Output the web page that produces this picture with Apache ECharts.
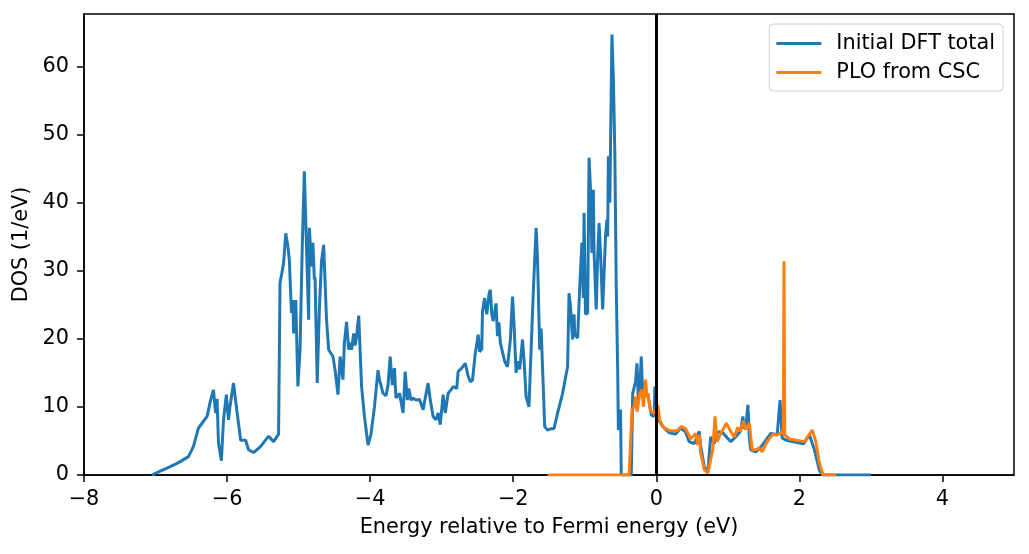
<!DOCTYPE html>
<html>
<head>
<meta charset="utf-8">
<script src="https://cdn.jsdelivr.net/npm/echarts@6/dist/echarts.min.js"></script>
<style>
  html, body { margin: 0; padding: 0; background: #fff; }
  #chart { width: 1029px; height: 554px; }
</style>
</head>
<body>
<div id="chart"></div>
<script>
// Initial DFT total DOS (energy in eV, DOS in 1/eV)
const dftEnergy = [
  -7.05, -6.95, -6.84, -6.72, -6.65, -6.54, -6.47, -6.40, -6.35, -6.28, -6.23, -6.19, -6.16, -6.14, -6.12, -6.08,
  -6.05, -6.01, -5.98, -5.96, -5.91, -5.87, -5.81, -5.74, -5.70, -5.63, -5.53, -5.42, -5.35, -5.28, -5.26, -5.23,
  -5.21, -5.18, -5.15, -5.13, -5.10, -5.08, -5.07, -5.04, -5.01, -4.98, -4.95, -4.92, -4.89, -4.86, -4.85, -4.82,
  -4.80, -4.78, -4.77, -4.74, -4.71, -4.68, -4.65, -4.61, -4.58, -4.52, -4.49, -4.45, -4.42, -4.38, -4.36, -4.33,
  -4.30, -4.28, -4.26, -4.23, -4.21, -4.19, -4.16, -4.12, -4.08, -4.03, -3.99, -3.94, -3.89, -3.87, -3.82, -3.78,
  -3.75, -3.72, -3.69, -3.66, -3.64, -3.59, -3.54, -3.51, -3.48, -3.46, -3.43, -3.40, -3.36, -3.31, -3.26, -3.23,
  -3.19, -3.16, -3.12, -3.08, -3.05, -3.02, -2.98, -2.95, -2.91, -2.87, -2.84, -2.79, -2.77, -2.72, -2.67, -2.63,
  -2.60, -2.57, -2.53, -2.49, -2.47, -2.44, -2.43, -2.40, -2.37, -2.34, -2.32, -2.30, -2.28, -2.24, -2.22, -2.20,
  -2.18, -2.12, -2.08, -2.04, -2.01, -1.99, -1.96, -1.94, -1.91, -1.87, -1.85, -1.82, -1.78, -1.75, -1.72, -1.68,
  -1.66, -1.63, -1.61, -1.56, -1.52, -1.47, -1.43, -1.38, -1.31, -1.24, -1.22, -1.20, -1.17, -1.15, -1.14, -1.10,
  -1.07, -1.04, -1.02, -1.01, -0.99, -0.96, -0.94, -0.92, -0.90, -0.88, -0.87, -0.84, -0.82, -0.80, -0.78, -0.75,
  -0.71, -0.69, -0.68, -0.67, -0.65, -0.62, -0.60, -0.58, -0.56, -0.54, -0.53, -0.50, -0.49, -0.35, -0.33, -0.29,
  -0.27, -0.25, -0.23, -0.21, -0.19, -0.17, -0.14, -0.12, -0.07, -0.03, -0.02, 0.02, 0.09, 0.18, 0.27, 0.34,
  0.41, 0.46, 0.53, 0.60, 0.62, 0.67, 0.72, 0.76, 0.81, 0.85, 0.92, 1.04, 1.11, 1.18, 1.21, 1.23,
  1.25, 1.28, 1.30, 1.32, 1.39, 1.46, 1.53, 1.60, 1.69, 1.73, 1.76, 1.82, 1.95, 2.06, 2.14, 2.21,
  2.28, 2.33, 3.00
];
const dftDos = [
  0, 0.5, 1.0, 1.6, 2.0, 2.7, 4.2, 6.9, 7.6, 8.6, 11.0, 12.5, 9.1, 11.2, 4.7, 2.1,
  8.1, 11.8, 8.1, 10.0, 13.5, 10.0, 5.1, 5.1, 3.7, 3.3, 4.2, 5.7, 4.9, 6.0, 28.2, 29.9,
  31.1, 35.5, 33.6, 31.6, 23.8, 25.7, 20.8, 25.7, 13.0, 18.4, 33.1, 44.6, 33.6, 22.8, 36.3, 30.6,
  34.1, 28.7, 29.0, 13.5, 24.3, 31.4, 33.8, 22.8, 18.4, 17.4, 15.4, 11.8, 17.4, 14.0, 19.4, 22.5,
  18.4, 19.4, 18.4, 20.8, 19.0, 20.3, 23.4, 13.0, 8.6, 4.4, 5.9, 10.0, 15.4, 14.0, 12.0, 11.6,
  13.2, 17.4, 13.2, 15.7, 11.3, 12.0, 9.1, 15.2, 11.0, 12.7, 11.0, 11.3, 11.0, 11.1, 9.6, 11.3,
  13.5, 11.0, 8.6, 8.1, 9.1, 7.4, 11.8, 9.1, 12.0, 12.5, 13.0, 12.7, 15.2, 15.7, 16.4, 14.5,
  13.7, 13.9, 17.9, 20.6, 18.1, 18.5, 24.0, 26.0, 23.6, 26.5, 27.2, 23.6, 22.6, 25.2, 20.4, 22.4,
  19.4, 16.7, 15.9, 19.9, 26.2, 22.4, 15.0, 16.7, 15.5, 19.9, 17.0, 11.5, 10.0, 18.4, 26.7, 36.3,
  31.6, 18.4, 21.5, 7.1, 6.6, 6.8, 6.8, 9.1, 12.0, 15.9, 26.7, 24.8, 19.9, 23.6, 20.6, 20.1,
  27.7, 34.1, 26.0, 38.5, 23.6, 23.8, 46.6, 42.0, 32.6, 41.9, 32.6, 24.3, 32.0, 37.0, 32.6, 24.3,
  35.0, 37.5, 35.0, 46.8, 40.0, 64.7, 58.1, 47.5, 27.7, 15.4, 6.6, 9.6, 0, 0, 12.0, 13.7,
  16.4, 10.6, 13.0, 17.4, 11.5, 13.5, 11.5, 12.0, 8.8, 8.6, 13.0, 8.3, 7.1, 6.2, 6.0, 6.9,
  6.3, 4.9, 4.6, 6.4, 4.3, 1.2, 0.4, 5.6, 4.6, 6.3, 6.3, 4.9, 5.6, 6.5, 8.6, 7.0,
  6.7, 10.3, 5.6, 3.7, 3.4, 4.1, 5.1, 6.1, 5.9, 11.0, 5.4, 5.1, 4.8, 4.6, 5.9, 3.7,
  0.7, 0, 0
];

// PLO from CSC
const ploEnergy = [
  -1.52, -0.38, -0.34, -0.31, -0.29, -0.27, -0.23, -0.20, -0.18, -0.15, -0.13, -0.12, -0.08, -0.03, 0.02, 0.05,
  0.10, 0.19, 0.29, 0.35, 0.41, 0.48, 0.55, 0.58, 0.60, 0.62, 0.67, 0.72, 0.79, 0.82, 0.85, 0.90,
  0.98, 1.04, 1.09, 1.14, 1.17, 1.22, 1.25, 1.30, 1.34, 1.39, 1.44, 1.48, 1.55, 1.62, 1.70, 1.76,
  1.775, 1.785, 1.795, 1.86, 2.07, 2.18, 2.23, 2.28, 2.33, 2.51
];
const ploDos = [
  0, 0, 9.6, 10.0, 11.5, 9.3, 12.0, 12.5, 10.0, 14.0, 11.4, 12.0, 9.3, 9.1, 10.3, 8.0,
  7.0, 6.5, 6.5, 7.1, 6.8, 5.3, 6.1, 4.4, 5.9, 3.3, 0.8, 0.3, 3.7, 8.6, 4.9, 6.1,
  7.6, 6.4, 5.6, 7.0, 6.4, 7.9, 6.7, 7.6, 3.7, 3.7, 4.0, 3.4, 4.9, 5.9, 5.9, 6.3,
  6.0, 31.4, 5.9, 5.3, 4.9, 6.6, 4.9, 1.7, 0, 0
];

const xTicks = { min: -8, max: 5, step: 2 };
const yTicks = { min: 0, max: 67.7, step: 10 };
const fermiLevel = 0;

const font = 'DejaVu Sans';
const fs = 20.8;
const minus = (v) => String(v).replace('-', '\u2212');

const chart = echarts.init(document.getElementById('chart'));
chart.setOption({
  animation: false,
  textStyle: { fontFamily: font },
  grid: {
    left: 84, right: 15, top: 14, bottom: 79,
    show: true, borderColor: '#000', borderWidth: 1.5, backgroundColor: 'transparent'
  },
  legend: {
    orient: 'vertical',
    right: 26,
    top: 24,
    padding: [9, 8, 8, 7],
    itemGap: 8,
    itemWidth: 45,
    itemHeight: 3,
    icon: 'rect',
    borderColor: '#d0d0d0',
    borderWidth: 1,
    borderRadius: 4,
    textStyle: { fontFamily: font, fontSize: fs, color: '#000', padding: [0, 0, 0, 10], lineHeight: 21 },
    data: ['Initial DFT total', 'PLO from CSC']
  },
  xAxis: {
    type: 'value',
    min: xTicks.min, max: xTicks.max, interval: xTicks.step,
    name: 'Energy relative to Fermi energy (eV)',
    nameLocation: 'middle',
    nameGap: 42,
    nameTextStyle: { fontFamily: font, fontSize: fs, color: '#000' },
    axisLine: { show: true, onZero: false, lineStyle: { color: '#000', width: 1.5 } },
    axisTick: { show: true, length: 7, lineStyle: { color: '#000', width: 1.5 } },
    axisLabel: { color: '#000', fontSize: fs, fontFamily: font, margin: 14, showMaxLabel: false, formatter: minus },
    splitLine: { show: false }
  },
  yAxis: {
    type: 'value',
    min: yTicks.min, max: yTicks.max, interval: yTicks.step,
    name: 'DOS (1/eV)',
    nameLocation: 'middle',
    nameGap: 50,
    nameTextStyle: { fontFamily: font, fontSize: fs, color: '#000' },
    axisLine: { show: true, onZero: false, lineStyle: { color: '#000', width: 1.5 } },
    axisTick: { show: true, length: 7, lineStyle: { color: '#000', width: 1.5 } },
    axisLabel: { color: '#000', fontSize: fs, fontFamily: font, margin: 15, showMaxLabel: false, formatter: minus },
    splitLine: { show: false }
  },
  series: [
    {
      name: 'Initial DFT total',
      type: 'line',
      showSymbol: false,
      color: '#1f77b4',
      lineStyle: { width: 3, color: '#1f77b4' },
      data: dftEnergy.map((e, i) => [e, dftDos[i]])
    },
    {
      name: 'PLO from CSC',
      type: 'line',
      showSymbol: false,
      color: '#ff7f0e',
      lineStyle: { width: 3, color: '#ff7f0e' },
      data: ploEnergy.map((e, i) => [e, ploDos[i]]),
      markLine: {
        silent: true,
        symbol: 'none',
        label: { show: false },
        lineStyle: { color: '#000', width: 3, type: 'solid' },
        data: [{ xAxis: fermiLevel }]
      }
    }
  ]
});
</script>
</body>
</html>
